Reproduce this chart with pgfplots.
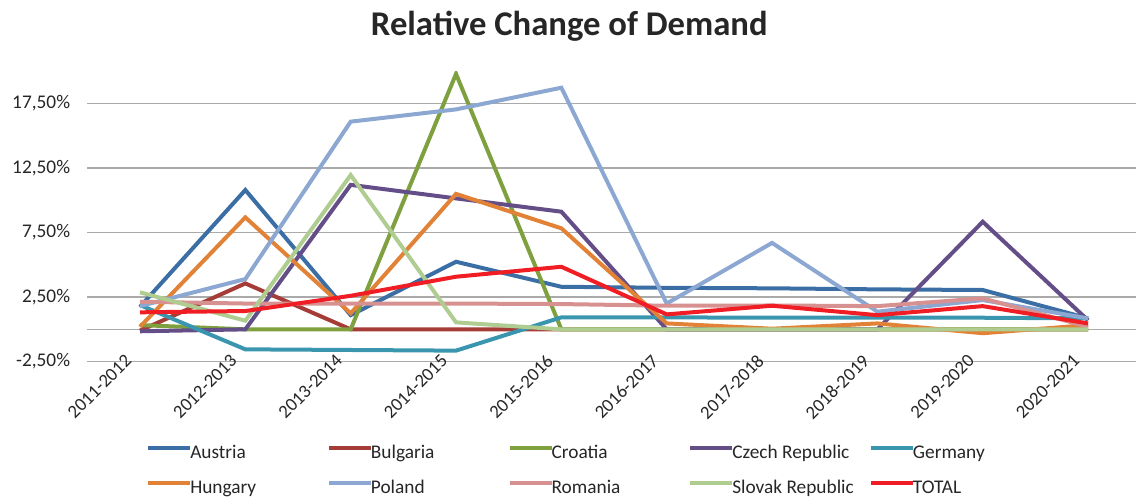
\documentclass[border=0pt]{standalone}
\usepackage{pgfplots}
\pgfplotsset{compat=1.18}
\usepackage{fontspec}
\setmainfont{Carlito}
\definecolor{cAustria}{RGB}{58,110,165}
\definecolor{cBulgaria}{RGB}{165,60,55}
\definecolor{cCroatia}{RGB}{126,160,62}
\definecolor{cCzech}{RGB}{100,78,135}
\definecolor{cGermany}{RGB}{58,150,175}
\definecolor{cHungary}{RGB}{225,130,55}
\definecolor{cPoland}{RGB}{140,168,210}
\definecolor{cRomania}{RGB}{215,145,145}
\definecolor{cSlovak}{RGB}{175,205,145}
\definecolor{cTotal}{RGB}{240,30,36}
\definecolor{gridgray}{RGB}{170,170,170}
\definecolor{txt}{RGB}{38,38,38}
\newcommand{\legtxt}[1]{\makebox[99pt][l]{\hspace*{-2.5pt}#1}}
\begin{document}
\begin{tikzpicture}
\path[use as bounding box] (0,0) rectangle (852pt,375pt);
\node[font=\bfseries\fontsize{26}{30}\selectfont, text=txt] at (427pt,355.5pt) {Relative Change of Demand};
\begin{axis}[
 at={(65.5pt,103.8pt)}, anchor=south west,
 scale only axis, width=786.5pt, height=217.7pt,
 xmin=-0.5, xmax=9.455, ymin=-2.5, ymax=20,
 axis line style={draw=none},
 major tick length=0pt,
 xtick={0,...,9},
 xticklabels={2011-2012,2012-2013,2013-2014,2014-2015,2015-2016,2016-2017,2017-2018,2018-2019,2019-2020,2020-2021},
 xticklabel style={rotate=45, anchor=north east, inner sep=1pt, xshift=-3pt, yshift=14pt, text=txt, font=\fontsize{14}{17}\selectfont},
 ytick={-2.5,2.5,7.5,12.5,17.5},
 yticklabels={{-2,50\%},{2,50\%},{7,50\%},{12,50\%},{17,50\%}},
 yticklabel style={anchor=east, inner sep=0pt, xshift=-12.75pt, text=txt, font=\fontsize{14.5}{17}\selectfont},
 ymajorgrids, grid style={draw=gridgray, line width=0.9pt},
 extra y ticks={0}, extra y tick labels={},
 extra y tick style={grid style={draw=gridgray, line width=1pt}},
 every axis plot/.append style={line width=3pt, mark=none},
 legend columns=5,
 legend style={draw=none, fill=none, inner sep=0pt,
   at={(rel axis cs:0,0)}, anchor=north west, xshift=44pt, yshift=-61.5pt,
   row sep=11pt,
   nodes={inner sep=1pt, text=txt, font=\fontsize{14.5}{17}\selectfont, text height=10pt, text depth=3pt},
   /tikz/every even column/.style={column sep=0pt}},
 legend image code/.code={\draw[#1, line width=3pt] (0pt,4.5pt) -- (31.5pt,4.5pt);},
]
\addplot[cAustria] coordinates {(0,1.75) (1,10.8) (2,1.1) (3,5.24) (4,3.3) (5,3.22) (6,3.18) (7,3.1) (8,3.05) (9,0.85)};
\addlegendentry{\legtxt{Austria}}
\addplot[cBulgaria] coordinates {(0,-0.1) (1,3.56) (2,0) (3,0) (4,0) (5,0) (6,0) (7,0) (8,0) (9,0)};
\addlegendentry{\legtxt{Bulgaria}}
\addplot[cCroatia] coordinates {(0,0.33) (1,0) (2,0) (3,19.8) (4,0) (5,0) (6,0) (7,0) (8,0) (9,0)};
\addlegendentry{\legtxt{Croatia}}
\addplot[cCzech] coordinates {(0,-0.15) (1,0) (2,11.2) (3,10.15) (4,9.12) (5,0) (6,0) (7,0) (8,8.34) (9,0.7)};
\addlegendentry{\legtxt{Czech Republic}}
\addplot[cGermany] coordinates {(0,1.88) (1,-1.55) (2,-1.6) (3,-1.65) (4,0.93) (5,0.93) (6,0.9) (7,0.9) (8,0.9) (9,0.85)};
\addlegendentry{\legtxt{Germany}}
\addplot[cHungary] coordinates {(0,0.2) (1,8.68) (2,1.24) (3,10.5) (4,7.83) (5,0.46) (6,0.05) (7,0.46) (8,-0.3) (9,0.33)};
\addlegendentry{\legtxt{Hungary}}
\addplot[cPoland] coordinates {(0,1.8) (1,3.9) (2,16.1) (3,17.05) (4,18.73) (5,2.0) (6,6.7) (7,1.37) (8,2.27) (9,0.85)};
\addlegendentry{\legtxt{Poland}}
\addplot[cRomania] coordinates {(0,2.14) (1,2.0) (2,2.0) (3,2.0) (4,1.96) (5,1.83) (6,1.85) (7,1.8) (8,2.4) (9,0.2)};
\addlegendentry{\legtxt{Romania}}
\addplot[cSlovak] coordinates {(0,2.87) (1,0.67) (2,11.96) (3,0.54) (4,0) (5,0) (6,0) (7,0) (8,0) (9,0)};
\addlegendentry{\legtxt{Slovak Republic}}
\addplot[cTotal] coordinates {(0,1.32) (1,1.42) (2,2.6) (3,4.08) (4,4.85) (5,1.16) (6,1.83) (7,1.1) (8,1.8) (9,0.46)};
\addlegendentry{\legtxt{TOTAL}}
\end{axis}
\end{tikzpicture}
\end{document}
